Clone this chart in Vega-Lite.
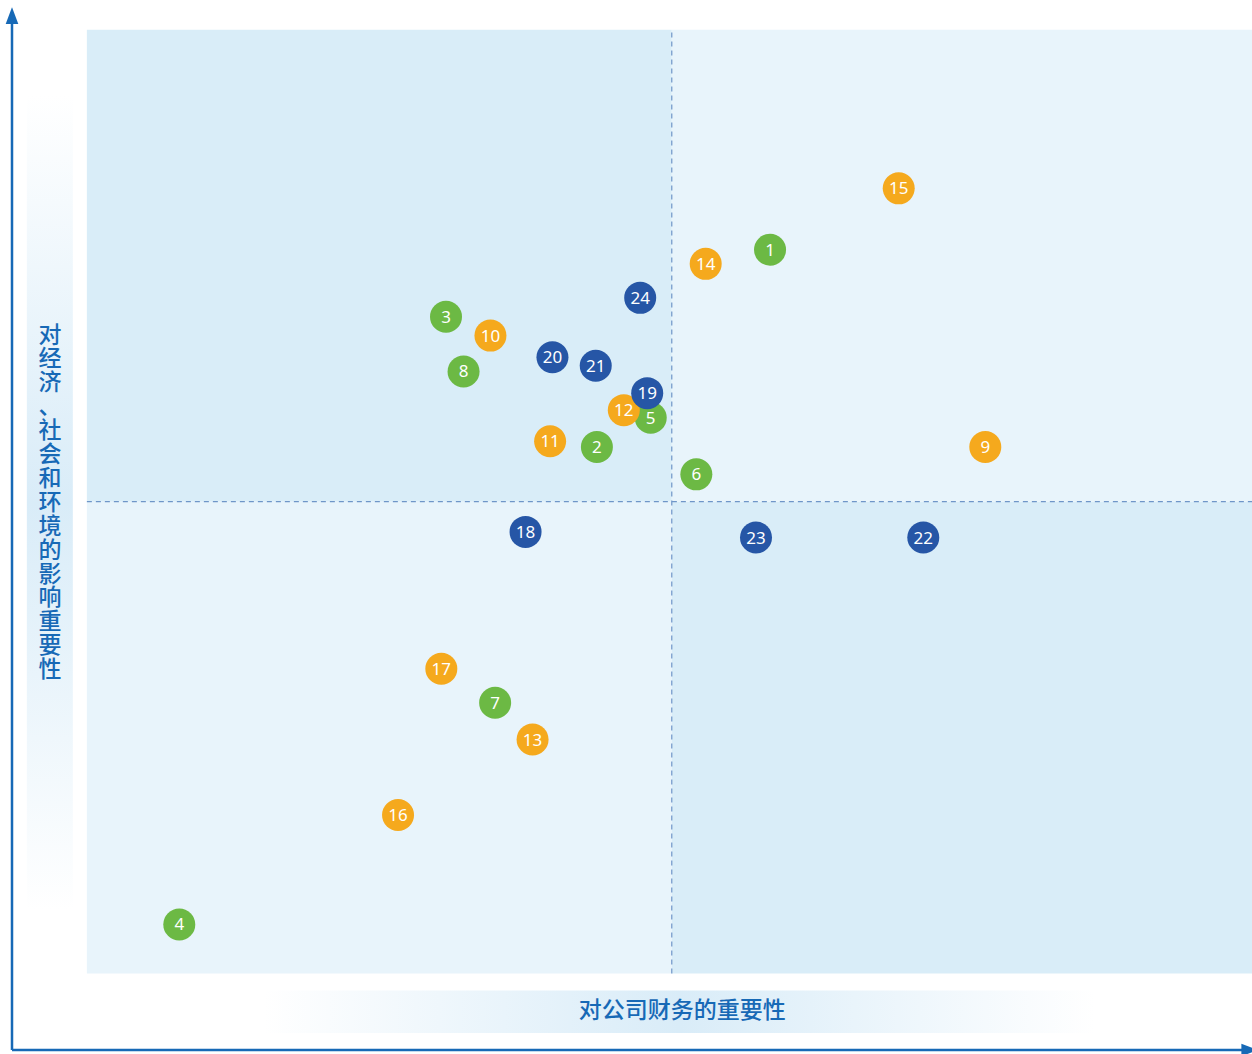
{
  "$schema": "https://vega.github.io/schema/vega-lite/v6.json",
  "width": 1240,
  "height": 1040,
  "autosize": {"type": "none"},
  "padding": {"left": 12, "top": 10, "right": 0, "bottom": 4},
  "background": "#ffffff",
  "config": {"view": {"stroke": null}},
  "datasets": {
    "quadrants": [
      {"q": "TL", "shade": "dark", "x0": 0, "x1": 5, "y0": 5, "y1": 10},
      {"q": "TR", "shade": "light", "x0": 5, "x1": 9.96, "y0": 5, "y1": 10},
      {"q": "BL", "shade": "light", "x0": 0, "x1": 5, "y0": 0, "y1": 5},
      {"q": "BR", "shade": "dark", "x0": 5, "x1": 9.96, "y0": 0, "y1": 5}
    ],
    "vbox": [{"x0": -0.513, "x1": -0.12, "y0": 0.67, "y1": 9.31}],
    "hbox": [{"x0": 1.51, "x1": 8.62, "y0": -0.63, "y1": -0.18}],
    "dividers": [
      {"name": "v", "x0": 5, "x1": 5, "y0": 0, "y1": 10},
      {"name": "h", "x0": 0, "x1": 9.96, "y0": 5, "y1": 5}
    ],
    "axislines": [
      {"name": "y", "x0": -0.64, "x1": -0.64, "y0": -0.81, "y1": 10.1},
      {"name": "x", "x0": -0.64, "x1": 9.9, "y0": -0.81, "y1": -0.81}
    ],
    "arrows": [
      {"dir": "up", "x": -0.64, "y": 10.15},
      {"dir": "right", "x": 9.94, "y": -0.81}
    ],
    "titles": [
      {"axis": "y", "label": "对\n经\n济\n、\n社\n会\n和\n环\n境\n的\n影\n响\n重\n要\n性", "x": -0.316, "y": 6.76},
      {"axis": "x", "label": "对公司财务的重要性", "x": 5.09, "y": -0.40}
    ],
    "points": [
      {"id": 1, "group": "E", "x": 5.84, "y": 7.67},
      {"id": 2, "group": "E", "x": 4.36, "y": 5.58},
      {"id": 3, "group": "E", "x": 3.07, "y": 6.96},
      {"id": 4, "group": "E", "x": 0.79, "y": 0.52},
      {"id": 5, "group": "E", "x": 4.82, "y": 5.89},
      {"id": 6, "group": "E", "x": 5.21, "y": 5.29},
      {"id": 7, "group": "E", "x": 3.49, "y": 2.87},
      {"id": 8, "group": "E", "x": 3.22, "y": 6.38},
      {"id": 9, "group": "S", "x": 7.68, "y": 5.58},
      {"id": 10, "group": "S", "x": 3.45, "y": 6.76},
      {"id": 11, "group": "S", "x": 3.96, "y": 5.64},
      {"id": 12, "group": "S", "x": 4.59, "y": 5.97},
      {"id": 13, "group": "S", "x": 3.81, "y": 2.48},
      {"id": 14, "group": "S", "x": 5.29, "y": 7.52},
      {"id": 15, "group": "S", "x": 6.94, "y": 8.32},
      {"id": 16, "group": "S", "x": 2.66, "y": 1.68},
      {"id": 17, "group": "S", "x": 3.03, "y": 3.23},
      {"id": 18, "group": "G", "x": 3.75, "y": 4.68},
      {"id": 19, "group": "G", "x": 4.79, "y": 6.15},
      {"id": 20, "group": "G", "x": 3.98, "y": 6.53},
      {"id": 21, "group": "G", "x": 4.35, "y": 6.44},
      {"id": 22, "group": "G", "x": 7.15, "y": 4.62},
      {"id": 23, "group": "G", "x": 5.72, "y": 4.62},
      {"id": 24, "group": "G", "x": 4.73, "y": 7.16}
    ]
  },
  "layer": [
    {
      "data": {"name": "quadrants"},
      "mark": {"type": "rect"},
      "encoding": {
        "x": {"field": "x0", "type": "quantitative", "scale": {"domain": [-0.64, 9.96], "nice": false, "zero": false}, "axis": null},
        "x2": {"field": "x1"},
        "y": {"field": "y0", "type": "quantitative", "scale": {"domain": [-0.81, 10.21], "nice": false, "zero": false}, "axis": null},
        "y2": {"field": "y1"},
        "fill": {"field": "shade", "type": "nominal", "scale": {"domain": ["dark", "light"], "range": ["#d9edf8", "#e8f4fb"]}, "legend": null}
      }
    },
    {
      "data": {"name": "vbox"},
      "mark": {"type": "rect", "fill": {"gradient": "linear", "x1": 0, "y1": 0, "x2": 0, "y2": 1, "stops": [{"offset": 0, "color": "#ffffff"}, {"offset": 0.5, "color": "#d9ecf8"}, {"offset": 1, "color": "#ffffff"}]}},
      "encoding": {
        "x": {"field": "x0", "type": "quantitative", "scale": {"domain": [-0.64, 9.96], "nice": false, "zero": false}, "axis": null},
        "x2": {"field": "x1"},
        "y": {"field": "y0", "type": "quantitative", "scale": {"domain": [-0.81, 10.21], "nice": false, "zero": false}, "axis": null},
        "y2": {"field": "y1"}
      }
    },
    {
      "data": {"name": "hbox"},
      "mark": {"type": "rect", "fill": {"gradient": "linear", "x1": 0, "y1": 0, "x2": 1, "y2": 0, "stops": [{"offset": 0, "color": "#ffffff"}, {"offset": 0.5, "color": "#d9ecf8"}, {"offset": 1, "color": "#ffffff"}]}},
      "encoding": {
        "x": {"field": "x0", "type": "quantitative", "scale": {"domain": [-0.64, 9.96], "nice": false, "zero": false}, "axis": null},
        "x2": {"field": "x1"},
        "y": {"field": "y0", "type": "quantitative", "scale": {"domain": [-0.81, 10.21], "nice": false, "zero": false}, "axis": null},
        "y2": {"field": "y1"}
      }
    },
    {
      "data": {"name": "dividers"},
      "mark": {"type": "rule", "color": "#6f96c8", "strokeWidth": 1.2, "strokeDash": [5, 4]},
      "encoding": {
        "x": {"field": "x0", "type": "quantitative", "scale": {"domain": [-0.64, 9.96], "nice": false, "zero": false}, "axis": null},
        "x2": {"field": "x1"},
        "y": {"field": "y0", "type": "quantitative", "scale": {"domain": [-0.81, 10.21], "nice": false, "zero": false}, "axis": null},
        "y2": {"field": "y1"}
      }
    },
    {
      "data": {"name": "axislines"},
      "mark": {"type": "rule", "color": "#1769b6", "strokeWidth": 2.5},
      "encoding": {
        "x": {"field": "x0", "type": "quantitative", "scale": {"domain": [-0.64, 9.96], "nice": false, "zero": false}, "axis": null},
        "x2": {"field": "x1"},
        "y": {"field": "y0", "type": "quantitative", "scale": {"domain": [-0.81, 10.21], "nice": false, "zero": false}, "axis": null},
        "y2": {"field": "y1"}
      }
    },
    {
      "data": {"name": "arrows"},
      "mark": {"type": "point", "filled": true, "opacity": 1, "color": "#1769b6", "size": 275},
      "encoding": {
        "x": {"field": "x", "type": "quantitative", "scale": {"domain": [-0.64, 9.96], "nice": false, "zero": false}, "axis": null},
        "y": {"field": "y", "type": "quantitative", "scale": {"domain": [-0.81, 10.21], "nice": false, "zero": false}, "axis": null},
        "shape": {"field": "dir", "type": "nominal", "scale": {"domain": ["up", "right"], "range": ["M0,-1L0.76,1L-0.76,1Z", "M1,0L-1,0.76L-1,-0.76Z"]}, "legend": null}
      }
    },
    {
      "data": {"name": "titles"},
      "mark": {"type": "text", "font": "Noto Sans CJK SC", "fontSize": 23, "fontWeight": 500, "color": "#1769b6", "align": "center", "baseline": "middle", "lineBreak": "\n", "lineHeight": 23.9},
      "encoding": {
        "x": {"field": "x", "type": "quantitative", "scale": {"domain": [-0.64, 9.96], "nice": false, "zero": false}, "axis": null},
        "y": {"field": "y", "type": "quantitative", "scale": {"domain": [-0.81, 10.21], "nice": false, "zero": false}, "axis": null},
        "text": {"field": "label", "type": "nominal"}
      }
    },
    {
      "data": {"name": "points"},
      "mark": {"type": "circle", "size": 1024, "opacity": 1},
      "encoding": {
        "x": {"field": "x", "type": "quantitative", "scale": {"domain": [-0.64, 9.96], "nice": false, "zero": false}, "axis": null},
        "y": {"field": "y", "type": "quantitative", "scale": {"domain": [-0.81, 10.21], "nice": false, "zero": false}, "axis": null},
        "color": {"field": "group", "type": "nominal", "scale": {"domain": ["E", "S", "G"], "range": ["#6cb944", "#f5a91d", "#2656a6"]}, "legend": null},
        "order": {"field": "id", "type": "quantitative"}
      }
    },
    {
      "data": {"name": "points"},
      "mark": {"type": "text", "font": "Noto Sans", "fontSize": 17, "color": "#ffffff", "align": "center", "baseline": "middle", "dy": 1},
      "encoding": {
        "x": {"field": "x", "type": "quantitative", "scale": {"domain": [-0.64, 9.96], "nice": false, "zero": false}, "axis": null},
        "y": {"field": "y", "type": "quantitative", "scale": {"domain": [-0.81, 10.21], "nice": false, "zero": false}, "axis": null},
        "text": {"field": "id", "type": "nominal"}
      }
    }
  ],
  "resolve": {"scale": {"color": "independent", "fill": "independent", "shape": "independent"}}
}
